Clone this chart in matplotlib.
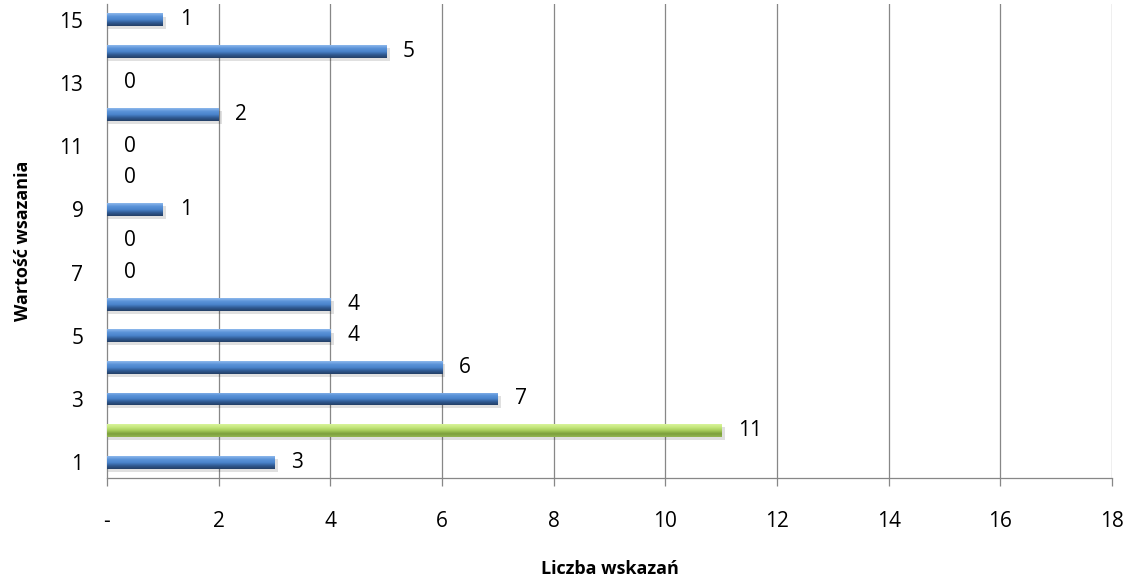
import matplotlib
matplotlib.use("Agg")
import matplotlib.pyplot as plt
import numpy as np
from matplotlib.colors import LinearSegmentedColormap

categories = list(range(1, 16))
values = [3, 11, 7, 6, 4, 4, 0, 0, 1, 0, 0, 2, 0, 5, 1]
highlight = [False, True] + [False] * 13
ytick_labels = ["1", "", "3", "", "5", "", "7", "", "9", "", "11", "", "13", "", "15"]
xticks = [0, 2, 4, 6, 8, 10, 12, 14, 16, 18]
xtick_labels = ["-", "2", "4", "6", "8", "10", "12", "14", "16", "18"]

plt.rcParams['font.family'] = ['Open Sans', 'DejaVu Sans']

fig = plt.figure(figsize=(11.31, 5.87), dpi=100)
ax = fig.add_axes([0.0946, 0.1857, 0.8886, 0.8075])

blue_cmap = LinearSegmentedColormap.from_list("b", ["#8db8ec", "#5b93d8", "#4a84cc", "#2f5a92", "#243f66"])
green_cmap = LinearSegmentedColormap.from_list("g", ["#d8f49a", "#c4e67c", "#a6cc5a", "#7c9f3c", "#93b552"])
grad = np.linspace(0, 1, 64).reshape(-1, 1)

fs = 15
h = 0.40
for c, v, hl in zip(categories, values, highlight):
    if v <= 0:
        continue
    ax.barh(c - 0.1, v + 0.04, height=h, left=0.02, color="#000000", alpha=0.12, zorder=2, linewidth=0)
    bar = ax.barh(c, v, height=h, color="#4f81bd", zorder=3, linewidth=0)[0]
    cmap = green_cmap if hl else blue_cmap
    im = ax.imshow(grad, cmap=cmap, aspect="auto",
                   extent=[0, v, c - h / 2, c + h / 2], origin="upper", zorder=3.5)
    im.set_clip_path(bar)
for c, v in zip(categories, values):
    ax.text(v + 0.3, c, str(v), va="center", ha="left", fontsize=fs, color="#000000", zorder=5)

ax.set_xlim(0, 18)
ax.set_ylim(0.5, 15.5)
ax.set_xticks(xticks)
ax.set_xticklabels(xtick_labels, fontsize=fs)
ax.set_yticks(categories)
ax.set_yticklabels(ytick_labels, fontsize=fs)
ax.tick_params(axis="y", length=0, pad=17)
ax.tick_params(axis="x", length=5.8, width=0.9, color="#878787", pad=18, direction="out")

for x in xticks[1:]:
    ax.axvline(x, color="#878787", linewidth=0.9, zorder=1)

for s in ["top", "right"]:
    ax.spines[s].set_visible(False)
for s in ["left", "bottom"]:
    ax.spines[s].set_color("#878787")
    ax.spines[s].set_linewidth(0.9)

ax.set_xlabel("Liczba wskazań", fontsize=13, fontweight="bold", labelpad=20)
ax.set_ylabel("Wartość wsazania", fontsize=13, fontweight="bold", labelpad=20)

fig.savefig("out.png", dpi=100)
